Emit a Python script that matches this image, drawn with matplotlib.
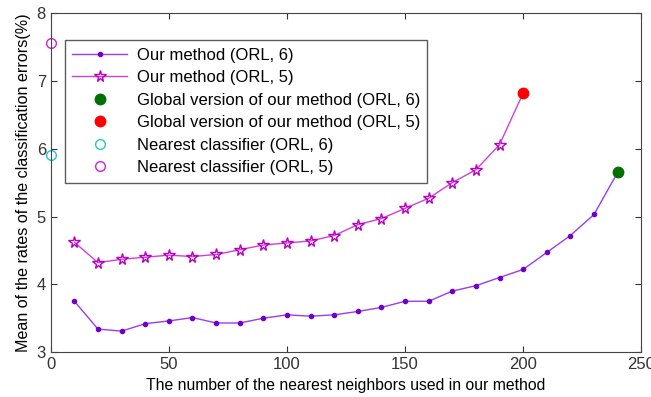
import matplotlib

matplotlib.use("Agg")
import matplotlib.pyplot as plt

plt.rcParams["font.family"] = ["Liberation Sans", "DejaVu Sans"]

# number of nearest neighbours
k_orl6 = [10, 20, 30, 40, 50, 60, 70, 80, 90, 100, 110, 120, 130, 140, 150, 160,
          170, 180, 190, 200, 210, 220, 230, 240]
err_orl6 = [3.75, 3.34, 3.31, 3.42, 3.46, 3.51, 3.43, 3.43, 3.50, 3.55, 3.53, 3.55,
            3.60, 3.66, 3.75, 3.75, 3.90, 3.98, 4.10, 4.22, 4.47, 4.72, 5.03, 5.65]

k_orl5 = [10, 20, 30, 40, 50, 60, 70, 80, 90, 100, 110, 120, 130, 140, 150, 160,
          170, 180, 190, 200]
err_orl5 = [4.62, 4.32, 4.37, 4.40, 4.43, 4.41, 4.44, 4.51, 4.58, 4.61, 4.64, 4.72,
            4.88, 4.97, 5.12, 5.27, 5.50, 5.69, 6.06, 6.82]

global_k = [240, 200]
global_err = [5.65, 6.82]

nearest_k = [0, 0]
nearest_err = [5.91, 7.56]

fig = plt.figure(figsize=(6.51, 3.97), dpi=100)
ax = fig.add_axes([0.078, 0.113, 0.907, 0.854])

ax.plot(k_orl6, err_orl6, color="#9a3cf0", lw=1.0, marker=".", ms=6,
        mfc="#7000c8", mec="#7000c8", label="Our method (ORL, 6)")
ax.plot(k_orl5[:-1], err_orl5[:-1], color="#d040d8", lw=1.0, marker="*", ms=8.5,
        mfc="none", mec="#b800c0", mew=1.0, label="Our method (ORL, 5)")
# last segment up to the global point, drawn without a star marker
ax.plot(k_orl5[-2:], err_orl5[-2:], color="#d040d8", lw=1.0)
ax.plot(global_k[0], global_err[0], "o", color="#007000", ms=7.5, zorder=3,
        label="Global version of our method (ORL, 6)", clip_on=False)
ax.plot(global_k[1], global_err[1], "o", color="#ff0000", ms=7.5, zorder=3,
        label="Global version of our method (ORL, 5)", clip_on=False)
ax.plot(nearest_k[0], nearest_err[0], "o", mfc="white", mec="#20c8c8", ms=7,
        label="Nearest classifier (ORL, 6)", clip_on=False)
ax.plot(nearest_k[1], nearest_err[1], "o", mfc="white", mec="#d020d8", ms=7,
        label="Nearest classifier (ORL, 5)", clip_on=False)

ax.set_xlim(0, 250)
ax.set_ylim(3, 8)
ax.set_xticks([0, 50, 100, 150, 200, 250])
ax.set_yticks([3, 4, 5, 6, 7, 8])
ax.tick_params(direction="in", labelsize=12, length=4, top=True, right=True,
               labeltop=False, labelright=False, colors="#333333")
for s in ax.spines.values():
    s.set_color("#444444")

ax.set_xlabel("The number of the nearest neighbors used in our method", fontsize=11.3)
ax.set_ylabel("Mean of the rates of the classification errors(%)", fontsize=11.6)

leg = ax.legend(loc="upper left", bbox_to_anchor=(0.024, 0.92), fontsize=12,
                frameon=True, fancybox=False, edgecolor="#333333",
                borderaxespad=0, handlelength=3.3, handletextpad=0.55,
                labelspacing=0.45, borderpad=0.45)
leg.get_frame().set_linewidth(1.0)

fig.savefig("out.png", dpi=100)
